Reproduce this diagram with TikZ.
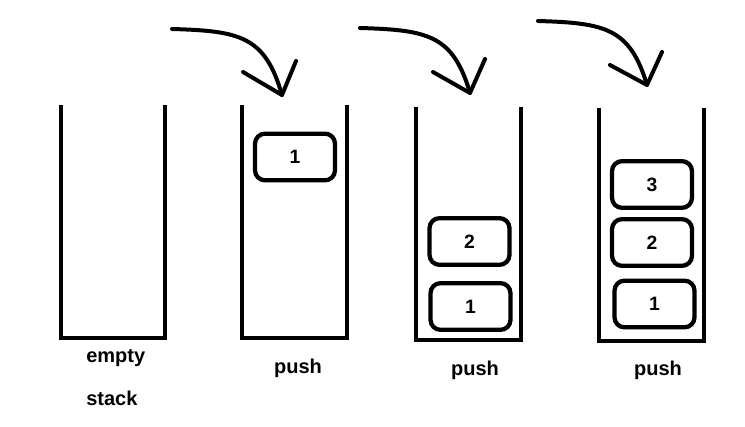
\documentclass[tikz,border=0pt]{standalone}
\usepackage{fontspec}
\setmainfont{Liberation Sans}
\begin{document}
\begin{tikzpicture}[x=0.75pt,y=-0.75pt,
  wall/.style={line width=3.4pt,line join=miter},
  item/.style={draw,line width=3.2pt,rounded corners=7.5pt,minimum width=60pt,minimum height=35pt,inner sep=0pt,font=\bfseries\fontsize{14.5}{15}\selectfont},
  lbl/.style={font=\bfseries\fontsize{15}{16}\selectfont,inner sep=0pt},
  curvy/.style={line width=3pt,line cap=round,line join=round}]
\useasboundingbox (0,0) rectangle (745,427);
% stacks
\draw[wall] (61,105) -- (61,338) -- (165,338) -- (165,105);
\draw[wall] (242,105) -- (242,338) -- (347,338) -- (347,105);
\draw[wall] (416,107) -- (416,340) -- (521,340) -- (521,107);
\draw[wall] (599,108) -- (599,341) -- (704,341) -- (704,108);
% items
\node[item] (b21) at (295,157) {1};
\node[item] (b32) at (469.5,241.5) {2};
\node[item] (b31) at (470.5,306.5) {1};
\node[item] (b43) at (652,184.5) {3};
\node[item] (b42) at (652,242.5) {2};
\node[item] (b41) at (654.5,304) {1};
% labels
\node[lbl,anchor=west] (l1a) at (86,358) {empty};
\node[lbl,anchor=west] (l1b) at (86,398) {stack};
\node[lbl] (l2) at (298,368) {push};
\node[lbl] (l3) at (475,370) {push};
\node[lbl] (l4) at (658,370) {push};
% arrows
\coordinate (s1) at (172,29); \coordinate (t1) at (282,95);
\coordinate (a1) at (243,72); \coordinate (c1) at (296,61);
\draw[curvy] (s1) .. controls (240,31) and (265,36) .. (t1);
\draw[curvy] (a1) -- (t1) -- (c1);
\coordinate (s2) at (360,28); \coordinate (t2) at (470,93);
\coordinate (a2) at (433,72); \coordinate (c2) at (485,59);
\draw[curvy] (s2) .. controls (428,30) and (453,35) .. (t2);
\draw[curvy] (a2) -- (t2) -- (c2);
\coordinate (s3) at (538,21); \coordinate (t3) at (647,85);
\coordinate (a3) at (610,65); \coordinate (c3) at (662,52);
\draw[curvy] (s3) .. controls (605,23) and (630,28) .. (t3);
\draw[curvy] (a3) -- (t3) -- (c3);
\end{tikzpicture}
\end{document}
